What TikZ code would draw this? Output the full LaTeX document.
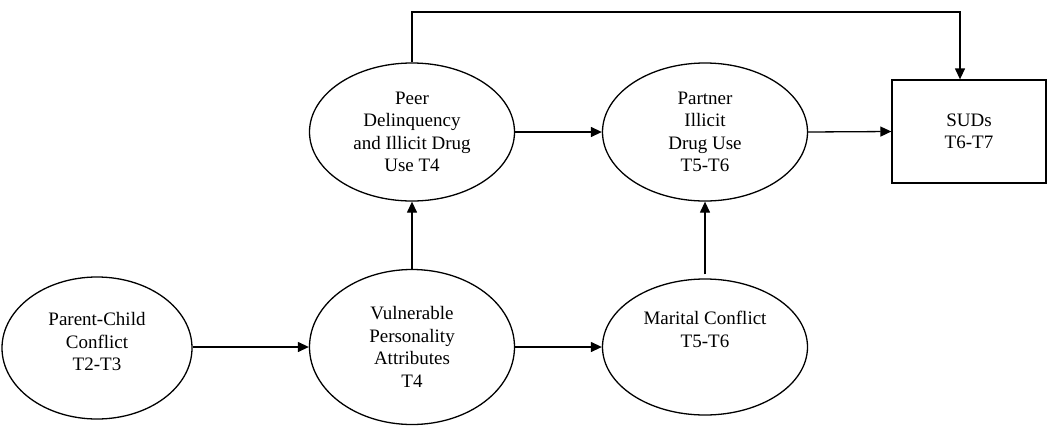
\documentclass[tikz,border=0pt]{standalone}
\usepackage{fontspec}
\setmainfont{Liberation Serif}
\usetikzlibrary{shapes.geometric,arrows.meta}
\begin{document}
\begin{tikzpicture}[x=1pt,y=-1pt,
  every node/.style={font=\fontsize{19}{22.5}\selectfont, align=center, inner sep=0pt},
  oval/.style={draw, ellipse, line width=1.3pt},
  boxnode/.style={draw, rectangle, line width=1.3pt},
  conn/.style={line width=1.3pt, -{Triangle[length=11pt,width=10pt]}},
  plain/.style={line width=1.3pt}]
\useasboundingbox (0,0) rectangle (1050,426);
\node[oval, minimum width=190pt, minimum height=142pt, text depth=13pt] (pc) at (97,348) {Parent-Child\\Conflict\\T2-T3};
\node[oval, minimum width=205pt, minimum height=155pt] (vpa) at (412,347) {Vulnerable\\Personality\\Attributes\\T4};
\node[oval, minimum width=205pt, minimum height=136pt, text depth=35pt] (mc) at (705,347) {Marital Conflict\\T5-T6};
\node[oval, minimum width=205pt, minimum height=138pt] (peer) at (412,132) {Peer\\Delinquency\\and Illicit Drug\\Use T4};
\node[oval, minimum width=205pt, minimum height=138pt] (partner) at (705,132) {Partner\\Illicit\\Drug Use\\T5-T6};
\node[boxnode, minimum width=154pt, minimum height=103pt] (suds) at (969,131.5) {SUDs\\T6-T7};
\coordinate (topc) at (960,12);
\draw[conn] (pc.east |- vpa.west) -- (vpa.west);
\draw[conn] (vpa.north) -- (peer.south);
\draw[conn] (vpa.east) -- (mc.west);
\draw[conn] ([yshift=4pt]mc.north) -- (partner.south);
\draw[conn] (peer.east) -- (partner.west);
\draw[conn] (partner.east) -- (suds.west);
\draw[conn] (peer.north) |- (topc) -- (topc |- suds.north);
\end{tikzpicture}
\end{document}
